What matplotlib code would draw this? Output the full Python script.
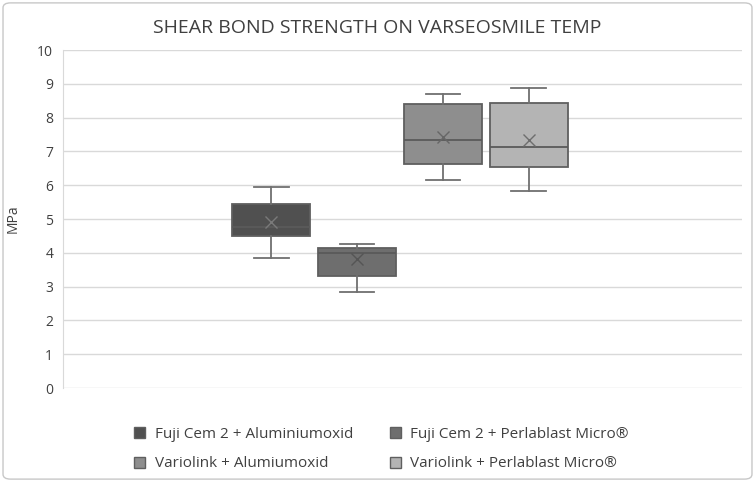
import matplotlib.pyplot as plt
from matplotlib.patches import Patch, FancyBboxPatch

title = "SHEAR BOND STRENGTH ON VARSEOSMILE TEMP"
labels = ["Fuji Cem 2 + Aluminiumoxid", "Fuji Cem 2 + Perlablast Micro®",
          "Variolink + Alumiumoxid", "Variolink + Perlablast Micro®"]
whislo = [3.85, 2.84, 6.17, 5.83]
q1 = [4.50, 3.32, 6.62, 6.55]
med = [4.77, 4.00, 7.33, 7.14]
q3 = [5.45, 4.15, 8.42, 8.43]
whishi = [5.94, 4.26, 8.70, 8.87]
mean = [4.92, 3.81, 7.44, 7.34]
fills = ["#505050", "#6e6e6e", "#8e8e8e", "#b4b4b4"]
mean_colors = ["#7a7a7a", "#555555", "#666666", "#6e6e6e"]

plt.rcParams["font.family"] = ["Open Sans", "DejaVu Sans"]

fig = plt.figure(figsize=(7.55, 4.82), dpi=100)
border = FancyBboxPatch((0.004, 0.006), 0.992, 0.988, boxstyle="round,pad=0,rounding_size=0.01",
                        transform=fig.transFigure, fc="none", ec="#c8c8c8", lw=1, zorder=-1)
fig.patches.append(border)
ax = fig.add_axes([0.0834, 0.195, 0.8996, 0.701])

stats = []
for i in range(4):
    stats.append(dict(whislo=whislo[i], q1=q1[i], med=med[i], q3=q3[i], whishi=whishi[i],
                      mean=mean[i], fliers=[]))
bp = ax.bxp(stats, positions=range(4), widths=0.91, patch_artist=True, showmeans=True,
            meanprops=dict(marker="x", markersize=9, markeredgewidth=1),
            medianprops=dict(color="#5a5a5a", lw=1.3),
            whiskerprops=dict(color="#707070", lw=1.3),
            capprops=dict(color="#707070", lw=1.3),
            boxprops=dict(lw=1.3), zorder=3)
for b, c in zip(bp["boxes"], fills):
    b.set_facecolor(c)
    b.set_edgecolor("#5f5f5f")
for m, c in zip(bp["means"], mean_colors):
    m.set_markeredgecolor(c)
for cap in bp["caps"]:
    x = cap.get_xdata()
    mid = (x[0] + x[1]) / 2
    cap.set_xdata([mid - 0.2, mid + 0.2])

ax.set_xlim(-2.43, 5.49)
ax.set_ylim(0, 10)
ax.set_yticks(range(11))
ax.grid(axis="y", color="#d9d9d9", lw=1, zorder=0)
ax.set_axisbelow(True)
for s in ax.spines.values():
    s.set_visible(False)
ax.spines["left"].set_visible(True)
ax.spines["left"].set_color("#d9d9d9")
ax.set_xticks([])
ax.tick_params(axis="y", length=0, labelsize=10, labelcolor="#404040", pad=7)
ax.set_ylabel("MPa", fontsize=10, color="#404040")
ax.yaxis.set_label_coords(-0.063, 0.5)

fig.text(0.5, 0.942, title, ha="center", va="center", fontsize=14, color="#404040")

order = [0, 2, 1, 3]
handles = [Patch(facecolor=fills[i], edgecolor="#5f5f5f", lw=1) for i in order]
fig.legend(handles, [labels[i] for i in order], loc="center", bbox_to_anchor=(0.505, 0.068), ncol=2,
           frameon=False, fontsize=11, labelcolor="#404040", handlelength=0.75, handleheight=0.75,
           columnspacing=2.4, labelspacing=0.95, handletextpad=0.6)

fig.savefig("out.png", dpi=100)
